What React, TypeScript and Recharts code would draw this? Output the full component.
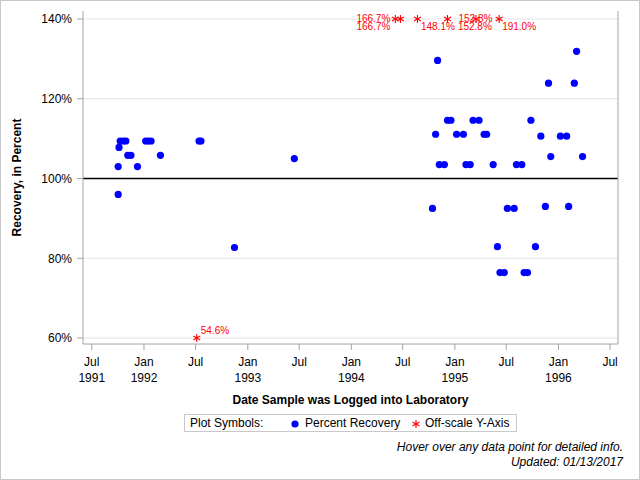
import React from "react";
import {
  ScatterChart,
  Scatter,
  XAxis,
  YAxis,
  CartesianGrid,
  ReferenceLine,
} from "recharts";

// percent recovery, by date logged into the lab
const recoveryDates = [
  "1991-10-02", "1991-10-02", "1991-10-05", "1991-10-09", "1991-10-20",
  "1991-10-29", "1991-11-05", "1991-11-16", "1991-12-09", "1992-01-07",
  "1992-01-16", "1992-01-26", "1992-02-28", "1992-07-13", "1992-07-20",
  "1992-11-15", "1993-06-14", "1994-10-14", "1994-10-25", "1994-11-01",
  "1994-11-07", "1994-11-25", "1994-12-06", "1994-12-18", "1995-01-07",
  "1995-01-31", "1995-02-09", "1995-02-24", "1995-03-06", "1995-03-27",
  "1995-04-14", "1995-04-23", "1995-05-16", "1995-05-31", "1995-06-09",
  "1995-06-24", "1995-07-05", "1995-07-29", "1995-08-06", "1995-08-25",
  "1995-09-02", "1995-09-14", "1995-09-26", "1995-10-12", "1995-10-31",
  "1995-11-16", "1995-11-27", "1995-12-05", "1996-01-08", "1996-01-30",
  "1996-02-06", "1996-02-26", "1996-03-05", "1996-03-26",
];
const recoveryPct = [
  96.0, 103.0, 107.8, 109.4, 109.4,
  109.4, 105.8, 105.8, 103.0, 109.4,
  109.4, 109.4, 105.8, 109.4, 109.4,
  82.7, 105.0, 92.5, 111.1, 129.6,
  103.5, 103.5, 114.6, 114.6, 111.1,
  111.1, 103.5, 103.5, 114.6, 114.6,
  111.1, 111.1, 103.5, 82.9, 76.4,
  76.4, 92.5, 92.5, 103.5, 103.5,
  76.4, 76.4, 114.6, 82.9, 110.6,
  93.0, 123.9, 105.5, 110.6, 110.6,
  93.0, 123.9, 131.9, 105.5,
];

// results outside the 60-140% axis range
const offScaleDates = [
  "1992-07-05", "1994-06-05", "1994-06-23", "1994-08-22",
  "1994-12-06", "1995-03-16", "1995-06-06",
];
const offScalePct = [54.6, 166.7, 166.7, 148.1, 152.8, 152.8, 191.0];

// where each off-scale label sits relative to its marker
const offScaleLabelPos = [
  { dx: 4, dy: -4, anchor: "start" },
  { dx: -5, dy: 3.5, anchor: "end" },
  { dx: -10, dy: 11, anchor: "end" },
  { dx: 3.5, dy: 11, anchor: "start" },
  { dx: 11, dy: 3.5, anchor: "start" },
  { dx: -1, dy: 11, anchor: "middle" },
  { dx: 3, dy: 11, anchor: "start" },
];

const yTicks = [60, 80, 100, 120, 140];
const xTickDates = [
  "1991-07-01", "1992-01-01", "1992-07-01", "1993-01-01", "1993-07-01",
  "1994-01-01", "1994-07-01", "1995-01-01", "1995-07-01", "1996-01-01",
  "1996-07-01",
];
const xTickMonth = ["Jul", "Jan", "Jul", "Jan", "Jul", "Jan", "Jul", "Jan", "Jul", "Jan", "Jul"];
const xTickYear = ["1991", "1992", "", "1993", "", "1994", "", "1995", "", "1996", ""];

const Y_MIN = 60;
const Y_MAX = 140;

const dayOf = (s: string) => Date.parse(s) / 86400000;

const FONT = "'Liberation Sans', Arial, sans-serif";
const FRAME = "#a4a4a4";

const recoveryData = recoveryDates.map((d, i) => ({
  day: dayOf(d),
  pct: recoveryPct[i],
}));

const offScaleData = offScaleDates.map((d, i) => ({
  day: dayOf(d),
  pct: Math.min(Y_MAX, Math.max(Y_MIN, offScalePct[i])),
  label: `${offScalePct[i].toFixed(1)}%`,
  pos: offScaleLabelPos[i],
}));

const xTicks = xTickDates.map(dayOf);

function Asterisk({ cx, cy, color = "#ff0000", r = 4 }: any) {
  const dx = r * Math.cos(Math.PI / 6);
  const dy = r * Math.sin(Math.PI / 6);
  return (
    <g stroke={color} strokeWidth={1.1}>
      <line x1={cx} y1={cy - r} x2={cx} y2={cy + r} />
      <line x1={cx - dx} y1={cy - dy} x2={cx + dx} y2={cy + dy} />
      <line x1={cx - dx} y1={cy + dy} x2={cx + dx} y2={cy - dy} />
    </g>
  );
}

function OffScaleShape(props: any) {
  const { cx, cy, payload } = props;
  const p = payload.pos;
  return (
    <g>
      <Asterisk cx={cx} cy={cy} />
      <text
        x={cx + p.dx}
        y={cy + p.dy}
        textAnchor={p.anchor}
        fontSize={10}
        fontFamily={FONT}
        fill="#ff0000"
      >
        {payload.label}
      </text>
    </g>
  );
}

function DotShape({ cx, cy }: any) {
  return <circle cx={cx} cy={cy} r={3.6} fill="#0000ff" />;
}

function DateTick({ x, y, payload }: any) {
  const i = xTicks.indexOf(payload.value);
  return (
    <text x={x} y={y} textAnchor="middle" fontSize={12} fontFamily={FONT} fill="#000">
      <tspan x={x} dy={14}>{xTickMonth[i]}</tspan>
      {xTickYear[i] && (
        <tspan x={x} dy={16}>{xTickYear[i]}</tspan>
      )}
    </text>
  );
}

export default function App() {
  const xDomain = [dayOf("1991-05-31"), dayOf("1996-07-29")];
  const yDomain = [58.5, 142];

  return (
    <div
      style={{
        position: "absolute",
        left: 0,
        top: 0,
        width: 640,
        height: 480,
        background: "#fff",
        fontFamily: FONT,
      }}
    >
      <ScatterChart
        width={640}
        height={480}
        margin={{ top: 11, right: 0, bottom: 96, left: 0 }}
      >
        <CartesianGrid
          xAxisId="bottom"
          yAxisId="left"
          vertical={false}
          stroke="#e3e3e3"
          horizontalValues={yTicks}
        />
        <XAxis
          xAxisId="bottom"
          type="number"
          dataKey="day"
          domain={xDomain}
          ticks={xTicks}
          allowDataOverflow
          height={40}
          tickSize={6}
          stroke={FRAME}
          tick={<DateTick />}
          interval={0}
        />
        <XAxis
          xAxisId="top"
          orientation="top"
          type="number"
          dataKey="day"
          domain={xDomain}
          allowDataOverflow
          height={0}
          tick={false}
          tickLine={false}
          stroke={FRAME}
        />
        <YAxis
          yAxisId="left"
          type="number"
          dataKey="pct"
          domain={yDomain}
          ticks={yTicks}
          allowDataOverflow
          width={83}
          tickSize={6}
          tickMargin={5}
          stroke={FRAME}
          tick={{ fill: "#000", fontSize: 12, fontFamily: FONT }}
          tickFormatter={(v: number) => `${v}%`}
          interval={0}
          label={{
            value: "Recovery, in Percent",
            angle: -90,
            position: "insideLeft",
            offset: 0,
            dx: 17,
            style: { fontWeight: "bold", fontSize: 12, fontFamily: FONT, fill: "#000", textAnchor: "middle" },
          }}
        />
        <YAxis
          yAxisId="right"
          orientation="right"
          type="number"
          domain={yDomain}
          ticks={yTicks}
          allowDataOverflow
          width={22}
          tickSize={6}
          tick={false}
          stroke={FRAME}
          interval={0}
        />
        <ReferenceLine xAxisId="bottom" yAxisId="left" y={100} stroke="#000" strokeWidth={1.5} />
        <Scatter
          xAxisId="bottom"
          yAxisId="left"
          name="Percent Recovery"
          data={recoveryData}
          shape={<DotShape />}
          isAnimationActive={false}
        />
        <Scatter
          xAxisId="bottom"
          yAxisId="left"
          name="Off-scale Y-Axis"
          data={offScaleData}
          shape={<OffScaleShape />}
          isAnimationActive={false}
        />
      </ScatterChart>

      <div
        style={{
          position: "absolute",
          left: 83,
          width: 535,
          top: 393,
          textAlign: "center",
          fontWeight: "bold",
          fontSize: 12,
          lineHeight: "14px",
        }}
      >
        Date Sample was Logged into Laboratory
      </div>

      <div
        style={{
          position: "absolute",
          left: 184,
          top: 414,
          width: 333,
          height: 18,
          boxSizing: "border-box",
          border: "1px solid #c8c8c8",
          fontSize: 12,
          lineHeight: "16px",
          whiteSpace: "nowrap",
        }}
      >
        <span style={{ position: "absolute", left: 5 }}>Plot Symbols:</span>
        <svg style={{ position: "absolute", left: 105, top: 4 }} width={10} height={10}>
          <circle cx={5} cy={5} r={3.6} fill="#0000ff" />
        </svg>
        <span style={{ position: "absolute", left: 120 }}>Percent Recovery</span>
        <svg style={{ position: "absolute", left: 226, top: 4 }} width={10} height={10}>
          <Asterisk cx={5} cy={5} />
        </svg>
        <span style={{ position: "absolute", left: 240 }}>Off-scale Y-Axis</span>
      </div>

      <div
        style={{
          position: "absolute",
          right: 17,
          top: 440,
          textAlign: "right",
          fontStyle: "italic",
          fontSize: 12,
          lineHeight: "15px",
        }}
      >
        Hover over any data point for detailed info.
        <br />
        Updated: 01/13/2017
      </div>

      <div
        style={{
          position: "absolute",
          left: 0,
          top: 0,
          width: 640,
          height: 480,
          boxSizing: "border-box",
          border: "1px solid #c8c8c8",
          pointerEvents: "none",
        }}
      />
    </div>
  );
}
